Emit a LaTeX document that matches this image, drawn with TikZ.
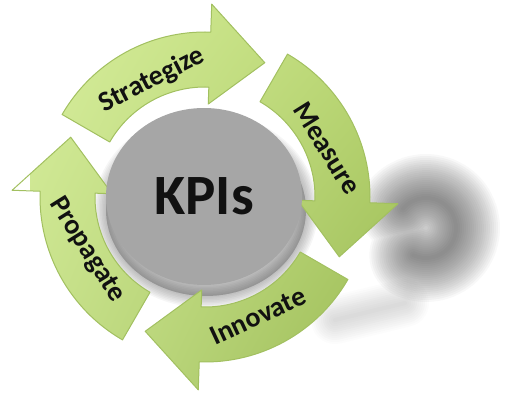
\documentclass[tikz,border=0pt]{standalone}
\usepackage{fontspec}
\setmainfont{Carlito}
\usetikzlibrary{calc,shapes.geometric,shadings}
\definecolor{gUL}{HTML}{D8EF9E}
\definecolor{gUR}{HTML}{BAD772}
\definecolor{gLL}{HTML}{C8E28C}
\definecolor{gLR}{HTML}{96B650}
\definecolor{gEdge}{HTML}{A2C060}
\definecolor{kpigray}{HTML}{A6A6A6}
\definecolor{txt}{HTML}{111111}
\definecolor{shd}{HTML}{303030}
\newcommand\kpiarrow[1]{%
  \pgfmathsetmacro\kB{#1-62}%
  \pgfmathsetmacro\kP{#1-84}%
  \path[arrowfill] ($(C)+(#1:165)$) arc[start angle=#1, end angle=\kB, radius=165]
    -- ($(C)+(\kB:193)$) -- ($(C)+(\kP:147)$) -- ($(C)+(\kB:93)$)
    -- ($(C)+(\kB:110)$) arc[start angle=\kB, end angle=#1, radius=110] -- cycle;}
\tikzset{
  arrowfill/.style={draw=gEdge, line width=1pt, line join=round,
    path picture={\shade[upper left=gUL, upper right=gUR, lower left=gLL, lower right=gLR]
      (30,-5) rectangle (410,-400);}},
  lab/.style={font=\fontsize{28}{28}\selectfont\bfseries, text=txt, inner sep=0pt},
  blurline/.style={draw=shd, draw opacity=0.035, line cap=round, line join=round},
}
\begin{document}
\begin{tikzpicture}[x=1pt,y=1pt]
\useasboundingbox (0,0) rectangle (507,-409);
\coordinate (C) at (205,-197);
\coordinate (S) at (426,-228);
% far shadow (crescent)
\foreach \w in {88,84,...,4}{
  \draw[blurline, line width=\w] ($(S)+(140:30)$) arc[start angle=140, end angle=-115, radius=30];
}
% haze below Innovate
\foreach \w in {48,44,...,4}{
  \draw[blurline, draw opacity=0.016, line width=\w] (335,-320) -- (405,-303);
}
% shadow of the central ellipse
\foreach \w in {24,21,...,3}{
  \path[draw=shd, fill=shd, draw opacity=0.045, fill opacity=0.045, line width=\w]
    (206,-210) ellipse[x radius=100, y radius=86];
}
% arrows
\kpiarrow{150}
\kpiarrow{60}
\kpiarrow{-30}
\kpiarrow{-120}
% centre
\node[ellipse, fill=kpigray, minimum width=196, minimum height=177, inner sep=0pt] (kpi) at (204,-196.5) {};
\node[font=\fontsize{57}{57}\selectfont\bfseries, text=txt] (kpit) at (204,-196) {KPIs};
% labels
\node[lab, rotate=27] (strat) at (152,-80) {Strategize};
\node[lab, rotate=-58] (meas) at (327,-148) {Measure};
\node[lab, rotate=25] (innov) at (258,-316) {Innovate};
\node[lab, rotate=-58] (prop) at (87,-250) {Propagate};
\end{tikzpicture}
\end{document}
